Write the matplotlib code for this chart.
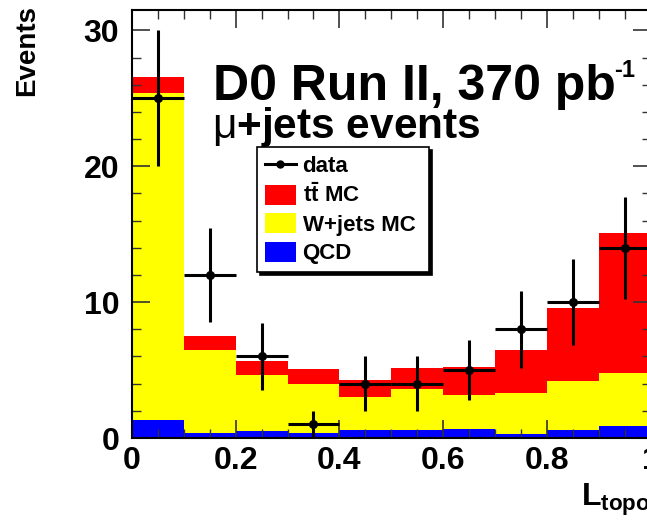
import numpy as np
import matplotlib
matplotlib.use("Agg")
import matplotlib.pyplot as plt
from matplotlib.patches import Patch
from matplotlib.lines import Line2D
from matplotlib.ticker import MultipleLocator

plt.rcParams['font.family'] = ['Liberation Sans', 'DejaVu Sans']
plt.rcParams['mathtext.fontset'] = 'custom'
plt.rcParams['mathtext.rm'] = 'Liberation Sans:bold'
plt.rcParams['mathtext.bf'] = 'Liberation Sans:bold'
plt.rcParams['mathtext.it'] = 'Liberation Sans'

# ---- data ----
bin_edges = [0.0, 0.1, 0.2, 0.3, 0.4, 0.5, 0.6, 0.7, 0.8, 0.9, 1.0]
qcd   = [1.35, 0.40, 0.50, 0.35, 0.60, 0.60, 0.65, 0.30, 0.60, 0.90]
wjets = [24.05, 6.05, 4.15, 3.65, 2.45, 3.00, 2.55, 3.00, 3.60, 3.90]
ttbar = [1.20, 1.05, 1.00, 1.05, 1.20, 1.55, 2.00, 3.15, 5.35, 10.30]
data  = [25, 12, 6, 1, 4, 4, 5, 8, 10, 14]
legend_labels = ["data", r"$\mathbf{t\bar{t}}$ MC", "W+jets MC", "QCD"]
colors = {"tt": "#ff0000", "w": "#ffff00", "qcd": "#0000ff"}

edges = np.array(bin_edges)
centers = 0.5 * (edges[:-1] + edges[1:])
widths = np.diff(edges)
qcd_a = np.array(qcd)
w_a = np.array(wjets)
tt_a = np.array(ttbar)
d_a = np.array(data, dtype=float)

W, H = 647, 521
fig = plt.figure(figsize=(W / 100, H / 100), dpi=100)
ax = fig.add_axes([131.8 / W, (H - 438) / H, (650.8 - 131.8) / W, 428 / H])

ax.bar(centers, qcd_a, width=widths, color=colors["qcd"], linewidth=0, zorder=1)
ax.bar(centers, w_a, width=widths, bottom=qcd_a, color=colors["w"], linewidth=0, zorder=1)
ax.bar(centers, tt_a, width=widths, bottom=qcd_a + w_a, color=colors["tt"], linewidth=0, zorder=1)

ax.errorbar(centers, d_a, yerr=np.sqrt(d_a), xerr=widths / 2, fmt='o', color='black',
            markersize=5.5, elinewidth=2.2, capsize=0, zorder=3)

ax.set_xlim(0, 1)
ax.set_ylim(0, 31.5)
ax.xaxis.set_minor_locator(MultipleLocator(0.05))
ax.yaxis.set_minor_locator(MultipleLocator(2))
ax.tick_params(which='both', direction='in', top=True, right=True, color='#333333')
ax.tick_params(which='major', length=13, width=1.2)
ax.tick_params(which='minor', length=6.5, width=1.0)
ax.tick_params(axis='x', which='major', labelsize=23, pad=6)
ax.tick_params(axis='y', which='major', labelsize=23, pad=9)
ax.set_xticks([0, 0.2, 0.4, 0.6, 0.8, 1.0])
ax.set_xticklabels(["0", "0.2", "0.4", "0.6", "0.8", "1"], fontweight='bold')
ax.set_yticks([0, 10, 20, 30])
ax.set_yticklabels(["0", "10", "20", "30"], fontweight='bold')
for s in ax.spines.values():
    s.set_linewidth(1.5)

ax.set_xlabel(r"$\mathbf{L_{topo}}$", loc='right', fontsize=23, labelpad=4)
fig.text(27.5 / W, 1 - 5 / H, "Events", rotation=90, ha='center', va='top',
         fontsize=20, fontweight='bold')

fig.text(213 / W, 1 - 100 / H, "D0 Run II, 370 pb", fontsize=36,
         fontweight='bold', ha='left', va='baseline')
fig.text(614 / W, 1 - 77 / H, "-1", fontsize=17,
         fontweight='bold', ha='left', va='baseline')
fig.text(212 / W, 1 - 138 / H, r"$\mu$+jets events", fontsize=30.5,
         fontweight='bold', ha='left', va='baseline')

handles = [
    Line2D([0], [0], color='black', marker='o', markersize=5, linewidth=2.2),
    Patch(facecolor=colors["tt"], edgecolor='none'),
    Patch(facecolor=colors["w"], edgecolor='none'),
    Patch(facecolor=colors["qcd"], edgecolor='none'),
]
leg = ax.legend(handles, legend_labels, loc='upper left', mode='expand',
                bbox_to_anchor=(257 / W, 1 - 266 / H, 172 / W, 119 / H),
                bbox_transform=fig.transFigure,
                prop={'size': 16, 'weight': 'bold'}, frameon=True, fancybox=False,
                edgecolor='black', framealpha=1, borderpad=0.35, labelspacing=0.27,
                handlelength=1.4, handleheight=1.0, handletextpad=0.3,
                borderaxespad=0, shadow={'color': 'black', 'alpha': 1})
leg.get_frame().set_linewidth(1.2)

fig.savefig("out.png", dpi=100)
